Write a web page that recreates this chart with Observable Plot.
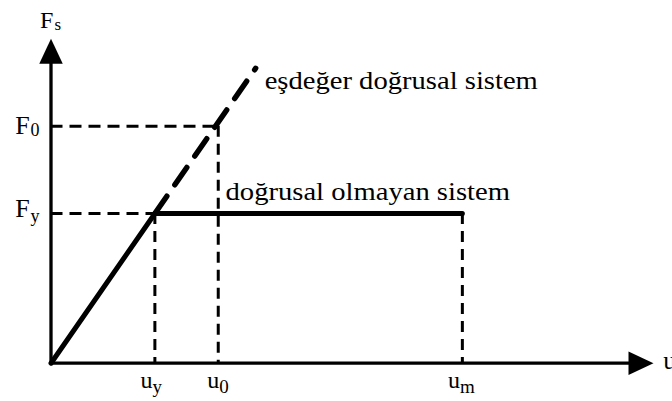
<!DOCTYPE html>
<html>
<head>
<meta charset="utf-8">
<script src="https://cdn.jsdelivr.net/npm/d3@7"></script>
<script src="https://cdn.jsdelivr.net/npm/@observablehq/plot@0.6"></script>
<style>
  html, body { margin: 0; padding: 0; background: #fff; }
</style>
</head>
<body>
<script>
// ---- values (data units: u / u_y, F / F_y) ----
const uy = 1, u0 = 1.61, um = 3.96;      // displacement marks
const Fy = 1, F0 = 1.583;                // force marks
const xAxisEnd = 5.80, yAxisEnd = 2.167; // arrow tips of the axes
const eqEnd = 1.97;                      // end of the equivalent linear line

// nonlinear (elasto-plastic) system
const nlU = [0, uy, um];
const nlF = [0, Fy, Fy];
// equivalent linear system (dashed continuation)
const eqU = [uy, eqEnd];
const eqF = [Fy, eqEnd];

// tick labels
const xTickValues = [uy, u0, um];
const xTickBase = ["u", "u", "u"];
const xTickSub = ["y", "0", "m"];
const xGuideTop = [Fy, F0, Fy];
const yTickValues = [Fy, F0];
const yTickBase = ["F", "F"];
const yTickSub = ["y", "0"];
const yGuideEnd = [uy, u0];

// titles and annotations
const xTitle = "u";
const yTitle = "F", yTitleSub = "s";
const eqLabel = "eşdeğer doğrusal sistem";
const nlLabel = "doğrusal olmayan sistem";

// ---- layout / style ----
const FONT = "'Liberation Serif', 'Times New Roman', serif";
const yLabelDy = [3.7, 7.6];   // baseline offsets of F labels
const yLabelSubDy = [9, 9.3];
const xLabelDx = [-14.3, -11, -14.4];

const arrowUp = {
  draw(ctx, size) {
    const r = Math.sqrt(size / Math.PI);
    ctx.moveTo(0, 0);
    ctx.lineTo(0.94 * r, 2 * r);
    ctx.lineTo(-0.94 * r, 2 * r);
    ctx.closePath();
  }
};
const arrowRight = {
  draw(ctx, size) {
    const r = Math.sqrt(size / Math.PI);
    ctx.moveTo(0, 0);
    ctx.lineTo(-2 * r, -0.94 * r);
    ctx.lineTo(-2 * r, 0.94 * r);
    ctx.closePath();
  }
};

const nlData = nlU.map((u, i) => ({u, F: nlF[i]}));
const eqData = eqU.map((u, i) => ({u, F: eqF[i]}));
const idxX = xTickValues.map((_, i) => i);
const idxY = yTickValues.map((_, i) => i);

const marks = [
  // axes
  Plot.ruleY([0], {x1: 0, x2: xAxisEnd * 0.98, strokeWidth: 3.3, stroke: "black"}),
  Plot.ruleX([0], {y1: 0, y2: yAxisEnd * 0.98, strokeWidth: 3.3, stroke: "black"}),
  Plot.dot([0], {x: xAxisEnd, y: 0, symbol: arrowRight, r: 12.5, fill: "black", stroke: "none"}),
  Plot.dot([0], {x: 0, y: yAxisEnd, symbol: arrowUp, r: 12.5, fill: "black", stroke: "none"}),
  // thin dashed guides
  Plot.ruleY(idxY, {y: i => yTickValues[i], x1: 0, x2: i => yGuideEnd[i],
    stroke: "black", strokeWidth: 3, strokeDasharray: "12,7"}),
  Plot.ruleX(idxX, {x: i => xTickValues[i], y1: i => xGuideTop[i], y2: 0,
    stroke: "black", strokeWidth: 3, strokeDasharray: "11,7"}),
  // equivalent linear system
  Plot.line(eqData, {x: "u", y: "F", stroke: "black", strokeWidth: 5.5, strokeDasharray: "21,14"}),
  // nonlinear system
  Plot.line(nlData, {x: "u", y: "F", stroke: "black", strokeWidth: 5, strokeLinejoin: "round", strokeLinecap: "round"}),
  // annotations
  Plot.text([eqLabel], {x: eqEnd, y: eqEnd, text: d => d, textAnchor: "start", lineAnchor: "bottom",
    dx: 9, dy: 20.5, fontSize: 26, fontFamily: FONT, fill: "black"}),
  Plot.text([nlLabel], {x: u0, y: Fy, text: d => d, textAnchor: "start", lineAnchor: "bottom",
    dx: 7.3, dy: -13, fontSize: 26, fontFamily: FONT, fill: "black"}),
  // axis titles
  Plot.text([yTitle], {x: 0, y: yAxisEnd, text: d => d, textAnchor: "start", lineAnchor: "bottom",
    dx: -11, dy: -11, fontSize: 24, fontFamily: FONT, fill: "black"}),
  Plot.text([yTitleSub], {x: 0, y: yAxisEnd, text: d => d, textAnchor: "start", lineAnchor: "bottom",
    dx: 3.5, dy: -8.5, fontSize: 17, fontFamily: FONT, fill: "black"}),
  Plot.text([xTitle], {x: xAxisEnd, y: 0, text: d => d, textAnchor: "start", lineAnchor: "bottom",
    dx: 9.7, dy: 5.6, fontSize: 26, fontFamily: FONT, fill: "black"}),
];

// y tick labels (F_y, F_0)
idxY.forEach(i => {
  marks.push(Plot.text([i], {x: 0, y: yTickValues[i], text: () => yTickBase[i], textAnchor: "end",
    lineAnchor: "bottom", dx: -21.2, dy: yLabelDy[i], fontSize: 26, fontFamily: FONT, fill: "black"}));
  marks.push(Plot.text([i], {x: 0, y: yTickValues[i], text: () => yTickSub[i], textAnchor: "start",
    lineAnchor: "bottom", dx: -20.5, dy: yLabelSubDy[i], fontSize: 18, fontFamily: FONT, fill: "black"}));
});
// x tick labels (u_y, u_0, u_m)
idxX.forEach(i => {
  marks.push(Plot.text([i], {x: xTickValues[i], y: 0, text: () => xTickBase[i], textAnchor: "start",
    lineAnchor: "bottom", dx: xLabelDx[i], dy: 24.6, fontSize: 24, fontFamily: FONT, fill: "black"}));
  marks.push(Plot.text([i], {x: xTickValues[i], y: 0, text: () => xTickSub[i], textAnchor: "start",
    lineAnchor: "bottom", dx: xLabelDx[i] + 12, dy: 29.3, fontSize: 19, fontFamily: FONT, fill: "black"}));
});

const chart = Plot.plot({
  width: 672,
  height: 401,
  x: {domain: [0, xAxisEnd], range: [50.5, 653], axis: null},
  y: {domain: [0, yAxisEnd], range: [362.7, 38.3], axis: null},
  style: {background: "white", color: "black", fontFamily: FONT, overflow: "visible"},
  marks
});
document.body.appendChild(chart);

// widen the annotation text slightly, as in the reference lettering
chart.querySelectorAll("text").forEach(t => {
  if (t.textContent === eqLabel || t.textContent === nlLabel) {
    const len = t.getComputedTextLength();
    t.setAttribute("textLength", (len * 1.1).toFixed(1));
    t.setAttribute("lengthAdjust", "spacingAndGlyphs");
  }
});
</script>
</body>
</html>
